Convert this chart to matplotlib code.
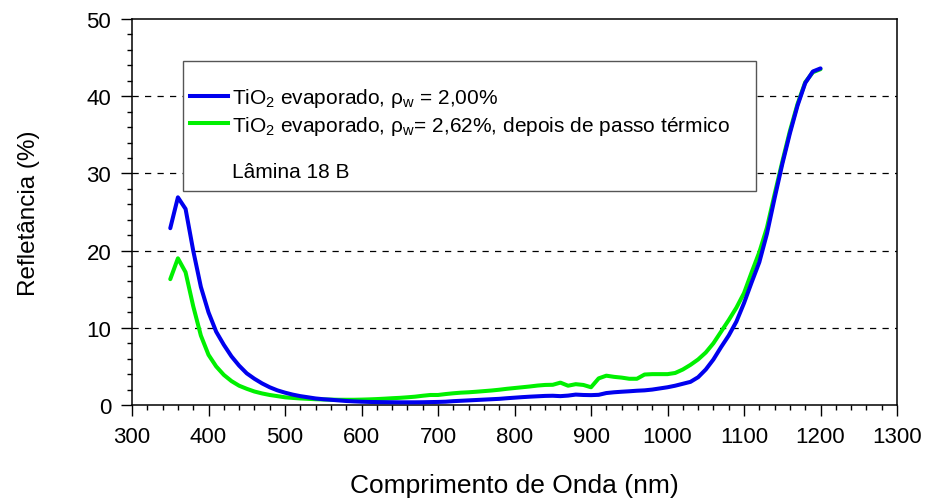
import numpy as np
import matplotlib
matplotlib.use("Agg")
import matplotlib.pyplot as plt
from matplotlib.patches import Rectangle
from matplotlib.lines import Line2D

plt.rcParams['font.family'] = ['Liberation Sans', 'DejaVu Sans']
plt.rcParams['mathtext.fontset'] = 'custom'
plt.rcParams['mathtext.rm'] = 'Liberation Sans'
plt.rcParams['mathtext.it'] = 'Liberation Sans'

# wavelength (nm)
wl = [350, 360, 370, 380, 390, 400, 410, 420, 430, 440, 450, 460, 470, 480, 490,
      500, 510, 520, 530, 540, 550, 560, 570, 580, 590, 600, 610, 620, 630, 640,
      650, 660, 670, 680, 690, 700, 710, 720, 730, 740, 750, 760, 770, 780, 790,
      800, 810, 820, 830, 840, 850, 860, 870, 880, 890, 900, 910, 920, 930, 940,
      950, 960, 970, 980, 990, 1000, 1010, 1020, 1030, 1040, 1050, 1060, 1070,
      1080, 1090, 1100, 1110, 1120, 1130, 1140, 1150, 1160, 1170, 1180, 1190, 1200]

# TiO2 evaporado, rho_w = 2,00%
refl_blue = [22.9, 26.9, 25.4, 20.0, 15.3, 12.0, 9.5, 7.8, 6.3, 5.1, 4.1, 3.4, 2.8, 2.3, 1.9,
             1.6, 1.35, 1.15, 1.0, 0.85, 0.75, 0.68, 0.6, 0.52, 0.47, 0.43, 0.4, 0.38, 0.37, 0.36,
             0.35, 0.35, 0.35, 0.36, 0.38, 0.4, 0.43, 0.5, 0.55, 0.6, 0.65, 0.7, 0.75, 0.8, 0.88,
             0.95, 1.02, 1.08, 1.13, 1.18, 1.2, 1.15, 1.22, 1.35, 1.3, 1.28, 1.32, 1.55, 1.65, 1.72,
             1.78, 1.85, 1.9, 2.0, 2.15, 2.3, 2.5, 2.75, 3.0, 3.6, 4.6, 5.9, 7.5,
             9.0, 10.8, 13.2, 15.9, 18.5, 22.2, 26.8, 31.2, 35.2, 38.8, 41.7, 43.2, 43.6]

# TiO2 evaporado, rho_w = 2,62%, depois de passo termico
refl_green = [16.3, 19.0, 17.2, 12.8, 9.0, 6.5, 5.0, 3.9, 3.1, 2.5, 2.1, 1.75, 1.5, 1.3, 1.15,
              1.0, 0.92, 0.85, 0.8, 0.75, 0.72, 0.7, 0.68, 0.68, 0.68, 0.7, 0.73, 0.77, 0.82, 0.88,
              0.93, 1.0, 1.08, 1.2, 1.3, 1.3, 1.42, 1.52, 1.6, 1.65, 1.72, 1.8, 1.88, 1.98, 2.1,
              2.2, 2.3, 2.4, 2.52, 2.6, 2.62, 2.9, 2.5, 2.7, 2.6, 2.3, 3.45, 3.8, 3.65, 3.55,
              3.4, 3.4, 3.95, 4.0, 4.0, 4.0, 4.15, 4.6, 5.2, 5.9, 6.8, 8.0, 9.5,
              11.0, 12.6, 14.5, 17.2, 19.8, 23.0, 27.3, 31.5, 35.5, 39.0, 41.8, 43.1, 43.5]

labels = [r'TiO$_2$ evaporado, ρ$_\mathrm{w}$ = 2,00%',
          r'TiO$_2$ evaporado, ρ$_\mathrm{w}$= 2,62%, depois de passo térmico']
note = 'Lâmina 18 B'

fig = plt.figure(figsize=(9.31, 5.02), dpi=100)
ax = fig.add_axes([0.1418, 0.1912, 0.8217, 0.769])

for y in [10, 20, 30, 40]:
    ax.axhline(y, color='black', lw=0.9, dashes=(5, 5), zorder=1)

ax.plot(wl, refl_green, color='#00f000', lw=2.9, zorder=3, solid_capstyle='round')
ax.plot(wl, refl_blue, color='#0000ee', lw=2.9, zorder=4, solid_capstyle='round')

ax.set_xlim(300, 1300)
ax.set_ylim(0, 50)
ax.set_xticks(np.arange(300, 1301, 100))
ax.set_xticks(np.arange(300, 1301, 20), minor=True)
ax.set_yticks(np.arange(0, 51, 10))
ax.set_yticks(np.arange(0, 51, 2), minor=True)
ax.tick_params(which='major', direction='out', length=8, width=1, labelsize=16, pad=7)
ax.tick_params(which='minor', direction='out', length=3.5, width=1)
for s in ax.spines.values():
    s.set_linewidth(1.1)

ax.set_xlabel('Comprimento de Onda (nm)', fontsize=19, labelpad=19)
ax.set_ylabel('Refletância (%)', fontsize=17.5, labelpad=33)

# legend box
ax.add_patch(Rectangle((0.0667, 0.554), 0.749, 0.337, transform=ax.transAxes,
                       facecolor='white', edgecolor='#555555', lw=1.0, zorder=5))
handles = [Line2D([], [], color='#0000ee', lw=2.9),
           Line2D([], [], color='#00f000', lw=2.9)]
ax.legend(handles, labels, loc='upper left', bbox_to_anchor=(0.0758, 0.8254),
          frameon=False, fontsize=15, handlelength=1.8, handletextpad=0.2,
          labelspacing=0.2, borderpad=0, borderaxespad=0).set_zorder(6)
ax.text(0.1307, 0.606, note, transform=ax.transAxes, fontsize=15,
        va='center', ha='left', zorder=6)

fig.savefig('out.png', dpi=100)
